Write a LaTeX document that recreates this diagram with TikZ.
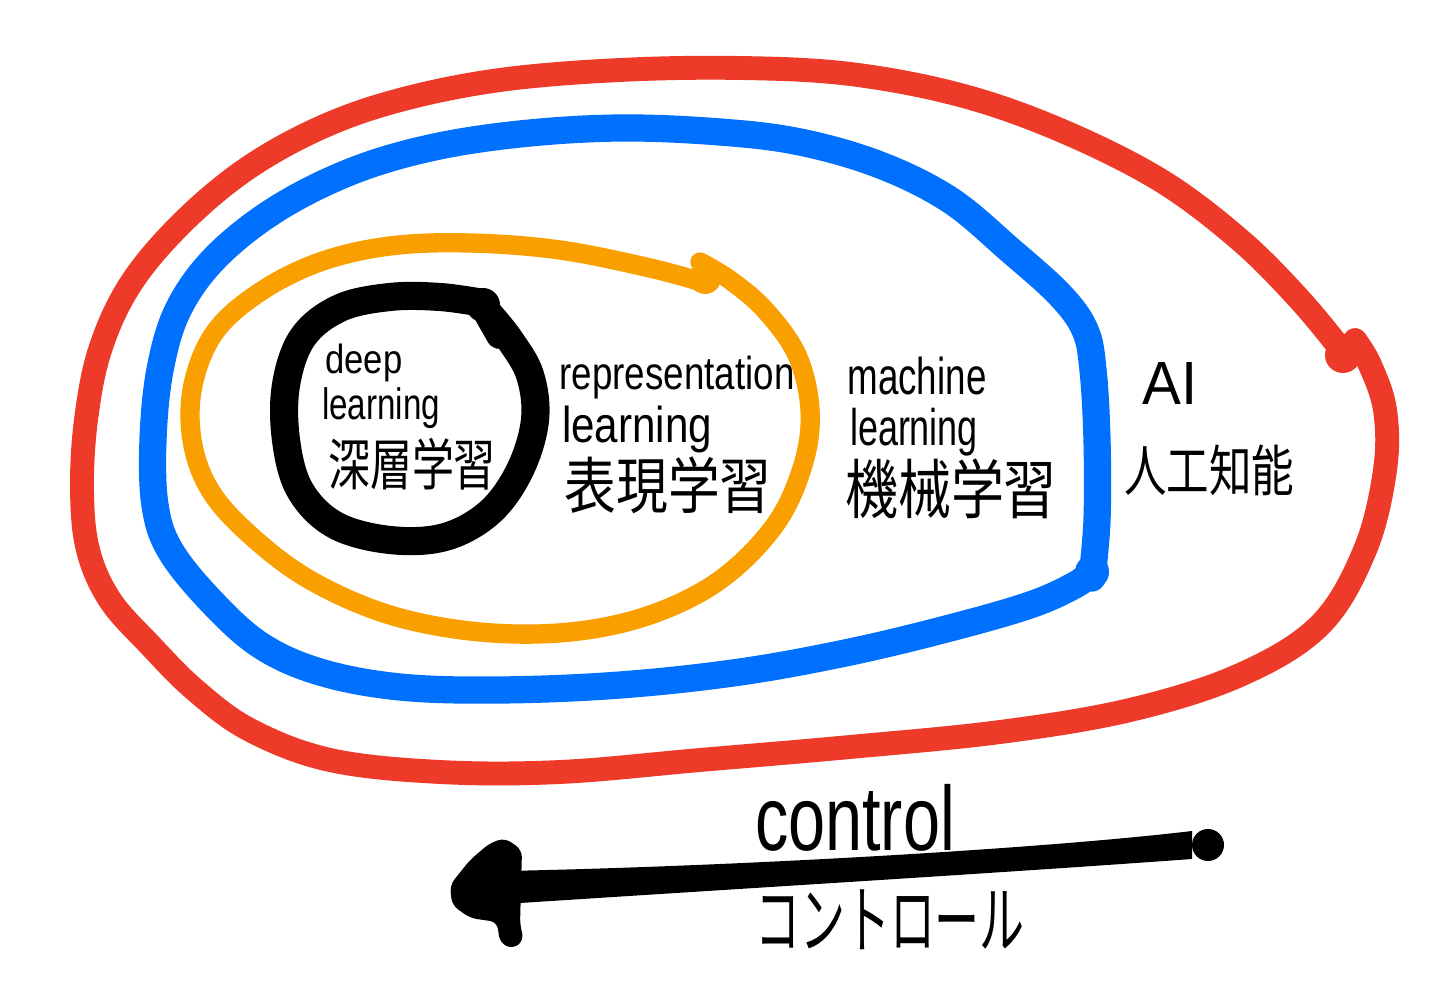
\documentclass[tikz,border=0pt]{standalone}
\usepackage{fontspec}
\setmainfont{Liberation Sans}
\newfontfamily\jpfont{Noto Sans CJK JP}
\usepackage{graphicx}
\definecolor{aired}{RGB}{238,58,40}
\definecolor{mlblue}{RGB}{0,112,255}
\definecolor{rlorange}{RGB}{249,159,0}
\newcommand{\fitbox}[3]{\resizebox*{#1}{#2}{#3}}
\begin{document}
\begin{tikzpicture}[x=0.02cm,y=-0.02cm,
  lbl/.style={inner sep=0pt, anchor=center, text=black},
  ring/.style={line width=#1, line cap=round, line join=round},
  ringred/.style={ring=13.6pt, draw=aired},
  ringblue/.style={ring=15.5pt, draw=mlblue},
  ringorange/.style={ring=11pt, draw=rlorange},
  ringblack/.style={ring=16pt, draw=black}]
\path[use as bounding box, fill=white] (0,0) rectangle (1444,999);

% red (AI)
\draw[ringred] plot[smooth, tension=0.6] coordinates {(1343,352) (1300,300) (1240,240) (1160,180) (1060,130) (960,95) (850,74) (740,68) (620,70) (500,80) (400,100) (320,128) (245,170) (180,225) (130,285) (100,350) (86,420) (82,490) (88,550) (110,600) (150,645) (195,690) (250,730) (330,760) (440,772) (560,772) (700,760) (850,747) (1000,732) (1130,710) (1240,675) (1320,625) (1365,550) (1385,470) (1385,410) (1370,365) (1355,340)};
\fill[aired] (1343,355) circle (18);

% blue (ML)
\draw[ringblue] plot[smooth, tension=0.6] coordinates {(1092,578) (1097,520) (1097,440) (1093,370) (1085,330) (1060,295) (1010,250) (950,200) (880,165) (800,142) (720,132) (620,128) (520,134) (430,148) (350,172) (275,210) (215,258) (178,310) (160,370) (153,440) (155,505) (170,550) (210,600) (260,645) (320,672) (400,687) (500,690) (620,685) (740,672) (850,652) (950,628) (1030,605) (1075,585) (1095,570)};
\fill[mlblue] (1092,572) circle (17);

% orange (representation learning)
\draw[ringorange] plot[smooth, tension=0.6] coordinates {(705,283) (650,268) (560,250) (470,243) (390,246) (320,262) (260,292) (215,332) (193,385) (192,440) (210,490) (250,535) (310,580) (390,615) (480,632) (570,632) (650,615) (720,580) (775,525) (803,465) (810,410) (797,355) (765,310) (730,280) (700,262)};
\fill[rlorange] (705,278) circle (16);

% black (deep learning)
\draw[ringblack] plot[smooth, tension=0.6] coordinates {(483,303) (440,297) (390,297) (340,308) (303,337) (286,385) (286,440) (300,490) (335,525) (390,540) (445,537) (490,512) (520,470) (535,420) (530,375) (510,340) (490,315)};
\fill[black] (483,305) circle (17);
\draw[ringblack] (483,305) -- (500,335);

% labels
\node[lbl] (deep) at (364,363) {\fitbox{1.54cm}{0.76cm}{deep}};
\node[lbl] (dlen) at (381,408) {\fitbox{2.36cm}{0.82cm}{learning}};
\node[lbl] (dljp) at (412,464) {\fitbox{3.36cm}{1.04cm}{\jpfont 深層学習}};
\node[lbl] (repr) at (677,378) {\fitbox{4.70cm}{0.86cm}{representation}};
\node[lbl] (rlen) at (637,429) {\fitbox{3.00cm}{0.94cm}{learning}};
\node[lbl] (rljp) at (668,485) {\fitbox{4.14cm}{1.14cm}{\jpfont 表現学習}};
\node[lbl] (mach) at (917,376) {\fitbox{2.78cm}{0.76cm}{machine}};
\node[lbl] (mlen) at (914,432) {\fitbox{2.56cm}{0.96cm}{learning}};
\node[lbl] (mljp) at (951,489) {\fitbox{4.24cm}{1.20cm}{\jpfont 機械学習}};
\node[lbl] (ai) at (1170,384) {\fitbox{1.10cm}{0.84cm}{AI}};
\node[lbl] (aijp) at (1209,470) {\fitbox{3.40cm}{1.02cm}{\jpfont 人工知能}};
\node[lbl] (ctrl) at (855,818) {\fitbox{4.00cm}{1.34cm}{control}};
\node[lbl] (ctrljp) at (890,920) {\fitbox{5.40cm}{1.20cm}{\jpfont コントロール}};

% control arrow
\coordinate (arrR) at (1208,845);
\coordinate (arrL) at (505,888);
\fill[black] (arrL) ++(0,-17) .. controls (750,866) and (1050,848) .. (1192,831)
  -- (1192,859) .. controls (1000,873) and (750,888) .. (505,904) -- cycle;
\fill[black] (arrR) circle (16);
\fill[black, rounded corners=4pt] (505,838) -- (522,850) -- (520,925) -- (524,940) -- (513,949) -- (500,943) -- (497,922) -- (470,918) -- (452,905) -- (450,885) -- (470,860) -- (490,843) -- cycle;
\end{tikzpicture}
\end{document}
